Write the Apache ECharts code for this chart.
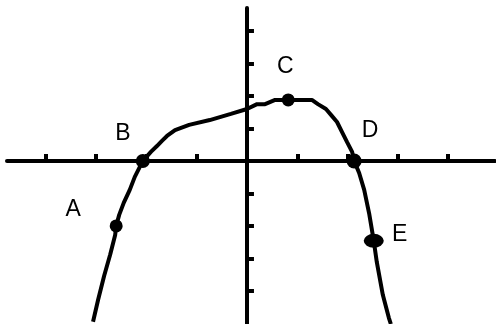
<!DOCTYPE html>
<html>
<head>
    <meta charset="utf-8">
    <title>curve</title>
    <script src="https://cdn.jsdelivr.net/npm/echarts@6/dist/echarts.min.js"></script>
    <style>
        html, body { margin: 0; padding: 0; background: #fff; }
    </style>
</head>
<body>
<div id="main" style="width: 496px;height:324px;"></div>
<script type="text/javascript">
    // curve (1 unit = one tick)
    var curveX = [-3.06, -2.96, -2.84, -2.72, -2.62, -2.60, -2.54, -2.45, -2.33, -2.23, -2.07,
        -1.91, -1.79, -1.69, -1.59, -1.43, -1.15, -0.74, -0.32, 0, 0.20, 0.36, 0.56, 0.82,
        1.29, 1.41, 1.57, 1.67, 1.79, 1.89, 1.99, 2.09, 2.13, 2.23, 2.33, 2.43, 2.52, 2.58,
        2.70, 2.82, 2.86];
    var curveY = [-4.95, -4.28, -3.54, -2.89, -2.28, -2.00, -1.66, -1.29, -0.89, -0.49, 0,
        0.28, 0.46, 0.62, 0.77, 0.95, 1.11, 1.26, 1.45, 1.60, 1.75, 1.75, 1.88, 1.88,
        1.88, 1.75, 1.60, 1.42, 1.20, 0.89, 0.58, 0.28, 0, -0.37, -0.89, -1.63, -2.46, -3.11,
        -4.12, -4.83, -5.02];

    // marked points
    var pointNames = ['A', 'B', 'C', 'D', 'E'];
    var pointX = [-2.60, -2.07, 0.82, 2.13, 2.52];
    var pointY = [-2.00, 0, 1.88, 0, -2.46];

    var tickValues = [-4, -3, -2, -1, 1, 2, 3, 4];

    // styles for the markers
    var markerSize = { A: [13, 13], B: [14, 14], C: [13, 13], D: [15, 15], E: [20, 14] };
    var labelShift = { A: [-43, -16], B: [-20, -27], C: [-3, -33], D: [16, -30], E: [26, -6] };

    var myChart = echarts.init(document.getElementById('main'));

    var curveData = curveX.map(function (x, i) { return [x, curveY[i]]; });
    var pointData = pointNames.map(function (n, i) {
        return {
            name: n,
            value: [pointX[i], pointY[i]],
            symbolSize: markerSize[n],
            label: { offset: labelShift[n] }
        };
    });

    var axisCommon = {
        type: 'value',
        axisLine: { onZero: true, lineStyle: { color: '#000', width: 4 } },
        axisTick: { show: true, inside: true, length: 7, customValues: tickValues,
            lineStyle: { color: '#000', width: 4 } },
        axisLabel: { show: false },
        splitLine: { show: false }
    };

    var option = {
        animation: false,
        backgroundColor: '#fff',
        grid: { left: 7, right: 1, top: 8, bottom: 0 },
        xAxis: Object.assign({}, axisCommon, { min: -4.77, max: 4.93 }),
        yAxis: Object.assign({}, axisCommon, { min: -5.02, max: 4.71 }),
        series: [
            {
                type: 'line',
                data: curveData,
                showSymbol: false,
                symbol: 'none',
                lineStyle: { color: '#000', width: 4 },
                z: 3
            },
            {
                type: 'scatter',
                data: pointData,
                symbol: 'circle',
                itemStyle: { color: '#000', opacity: 1 },
                emphasis: { disabled: true },
                label: {
                    show: true,
                    position: 'inside',
                    formatter: '{b}',
                    color: '#000',
                    fontFamily: 'Liberation Sans',
                    fontSize: 23
                },
                z: 4
            }
        ]
    };
    myChart.setOption(option);
</script>
</body>
</html>
